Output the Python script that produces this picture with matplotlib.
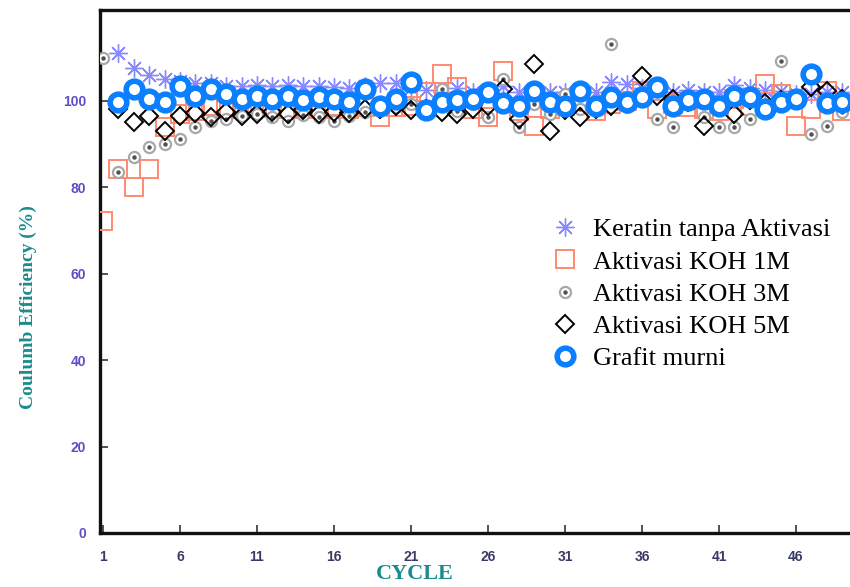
import numpy as np
import matplotlib
matplotlib.use("Agg")
import matplotlib.pyplot as plt
from matplotlib.legend_handler import HandlerTuple

nan = np.nan
cycles = np.arange(1, 50)

keratin = [nan, 111.0, 107.5, 106.0, 105.0, 104.5, 104.0, 104.0, 103.5, 103.5,
           103.7, 103.5, 103.7, 103.5, 103.5, 103.2, 103.0, 103.5, 104.0, 104.2,
           103.0, 102.5, 102.0, 103.0, 102.0, 102.0, 103.5, 102.0, 102.0, 102.0,
           102.0, 102.5, 102.0, 104.4, 103.9, 103.0, 102.5, 102.0, 102.5, 102.0,
           102.0, 103.7, 103.0, 102.5, 102.2, 101.5, 101.5, 102.0, 102.0]
koh1m = [72.2, 84.2, 80.0, 84.2, 94.0, 97.0, 97.7, 98.8, 98.1, 98.5,
         98.3, 98.8, 98.0, 98.6, 98.2, 98.8, 98.0, 98.5, 96.3, 98.6,
         98.8, 102.1, 106.3, 103.2, 98.1, 96.3, 107.0, 97.7, 94.2, 98.1,
         98.8, 99.5, 97.7, 99.3, 100.0, 102.3, 98.1, 99.3, 98.6, 98.1,
         97.7, 100.5, 98.8, 103.9, 101.6, 94.2, 98.1, 102.3, 97.7]
koh3m = [110.0, 83.5, 87.0, 89.3, 90.0, 91.2, 94.0, 95.4, 95.8, 96.5,
         97.0, 96.3, 95.4, 96.8, 96.3, 95.4, 96.5, 97.4, 98.1, 98.6,
         99.3, 98.1, 102.8, 97.7, 99.3, 96.3, 105.1, 94.0, 99.3, 97.0,
         101.6, 98.1, 99.3, 113.2, 98.6, 100.0, 95.8, 94.0, 99.3, 96.3,
         94.0, 94.0, 95.8, 98.1, 109.3, 100.0, 92.3, 94.2, 97.4]
koh5m = [nan, 98.1, 95.1, 96.5, 93.0, 96.5, 97.2, 96.3, 97.4, 96.5,
         97.0, 97.4, 97.0, 97.8, 97.0, 97.4, 97.2, 98.0, 98.1, 98.8,
         97.8, 98.1, 97.4, 97.0, 98.1, 98.8, 102.8, 95.8, 108.6, 93.0,
         97.8, 96.3, 98.1, 98.8, 99.8, 105.8, 101.2, 100.5, 99.8, 94.2,
         98.7, 97.0, 100.1, 99.4, 100.2, 100.5, 103.2, 102.3, 100.5]
grafit = [nan, 99.8, 102.8, 100.5, 99.8, 103.5, 101.2, 102.8, 101.6, 100.5,
          101.2, 100.5, 101.2, 100.1, 100.9, 100.5, 99.8, 102.8, 98.8, 100.5,
          104.4, 97.8, 99.8, 100.1, 100.5, 102.1, 99.4, 98.7, 102.3, 99.8,
          98.8, 102.3, 98.7, 100.9, 99.8, 100.9, 103.2, 98.7, 100.1, 100.5,
          98.8, 101.2, 100.9, 98.1, 99.8, 100.5, 106.3, 99.4, 99.8]

tick_cycles = [1, 6, 11, 16, 21, 26, 31, 36, 41, 46]
labels = ["Keratin tanpa Aktivasi", "Aktivasi KOH 1M", "Aktivasi KOH 3M",
          "Aktivasi KOH 5M", "Grafit murni"]

fig = plt.figure(figsize=(8.5, 5.87), dpi=100)
ax = fig.add_axes([100 / 850, 1 - 533 / 587, 750 / 850, 523 / 587])

h_star, = ax.plot(cycles, keratin, linestyle="none", marker=(8, 2, 0),
                  markersize=13, mew=1.0, color="#8a8aff", zorder=2)
h_sq, = ax.plot(cycles, koh1m, linestyle="none", marker="s", markersize=13,
                mfc="none", mec="#ff8a70", mew=1.4, zorder=3)
h_c, = ax.plot(cycles, koh3m, linestyle="none", marker="o", markersize=8,
               mfc="white", mec="#a8a8a8", mew=1.6, zorder=4)
h_d, = ax.plot(cycles, koh3m, linestyle="none", marker="o", markersize=2.2,
               color="#505050", zorder=4)
h_dia, = ax.plot(cycles, koh5m, linestyle="none", marker="D", markersize=9.5,
                 mfc="none", mec="black", mew=1.4, zorder=5)
h_ring, = ax.plot(cycles, grafit, linestyle="none", marker="o", markersize=12,
                  mfc="white", mec="#0a7fff", mew=4.0, zorder=6)

ax.set_xlim(1 - 3 / 15.4, 1 + 747 / 15.4)
ax.set_ylim(0, 121)
ax.set_xticks(tick_cycles)
ax.set_yticks([0, 20, 40, 60, 80, 100])
ax.tick_params(axis="both", direction="in", length=6, width=1.2, color="#333333")
ax.tick_params(axis="x", pad=12, labelsize=10, labelcolor="#3a3a66")
ax.tick_params(axis="y", pad=10, labelsize=10, labelcolor="#5a4fc8")
for t in ax.get_xticklabels() + ax.get_yticklabels():
    t.set_fontfamily("Liberation Sans")
    t.set_fontweight("bold")

for s in ["left", "bottom", "top"]:
    ax.spines[s].set_linewidth(2.4)
    ax.spines[s].set_color("#111111")
ax.spines["right"].set_visible(False)

fig.text(28 / 850, 1 - 307 / 587, "Coulumb Efficiency (%)", rotation=90,
         ha="center", va="center", fontsize=14, fontweight="bold",
         family="Liberation Serif", color="#1a8c8c")
fig.text(415 / 850, 1 - 574 / 587, "CYCLE", ha="center", va="center",
         fontsize=16, fontweight="bold", family="Liberation Serif",
         color="#1a8c8c")

leg = ax.legend([h_star, h_sq, (h_c, h_d), h_dia, h_ring], labels,
                handler_map={tuple: HandlerTuple(ndivide=1, pad=0)},
                loc="upper left", bbox_to_anchor=(552 / 850, 1 - 218 / 587),
                bbox_transform=fig.transFigure, frameon=False,
                prop={"family": "Liberation Serif", "size": 19},
                handlelength=1.0, handletextpad=0.55, labelspacing=0.33,
                borderpad=0, borderaxespad=0)

fig.savefig("out.png", dpi=100)
